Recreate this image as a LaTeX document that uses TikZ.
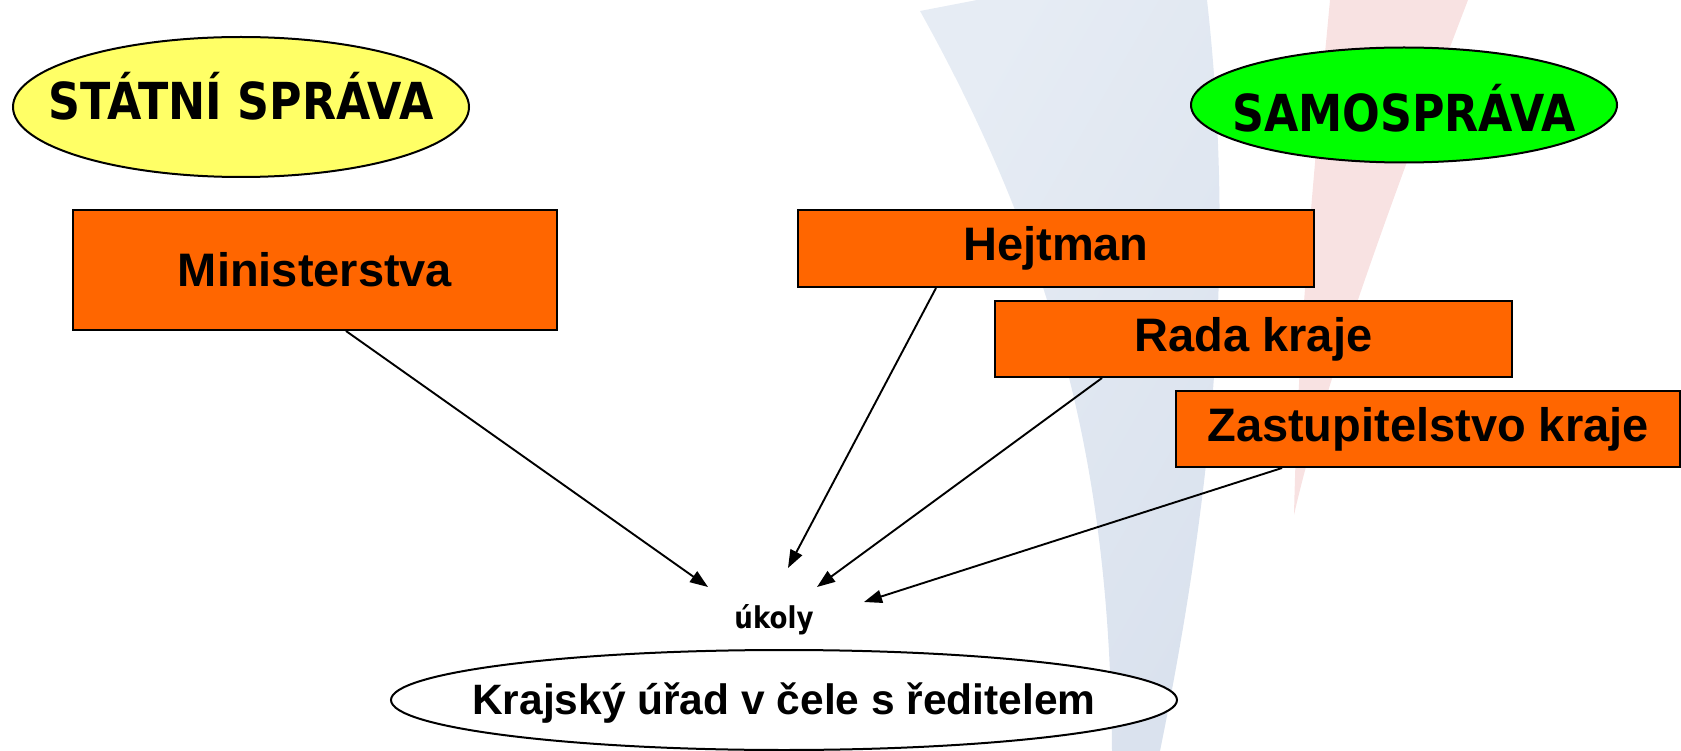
\documentclass[tikz,border=0pt]{standalone}
\usepackage{fontspec}
\setmainfont{Liberation Sans}
\newfontfamily\tah[FakeStretch=0.87]{DejaVu Sans}
\usetikzlibrary{shapes.geometric,arrows.meta}
\definecolor{boxorange}{HTML}{FF6600}
\definecolor{yel}{HTML}{FFFF66}
\definecolor{grn}{HTML}{00FF00}
\definecolor{bgblueA}{HTML}{E6ECF4}
\definecolor{bgblueB}{HTML}{DAE2EE}
\definecolor{bgpink}{HTML}{F8E2E2}
\begin{document}
\begin{tikzpicture}[x=1pt,y=-1pt,
  oval/.style={ellipse,draw=black,line width=2pt,inner sep=0pt},
  titletext/.style={font=\tah\bfseries\fontsize{51}{60}\selectfont},
  orgbox/.style={rectangle,draw=black,line width=2pt,fill=boxorange,inner sep=0pt,
     font=\bfseries\fontsize{47}{56}\selectfont},
  link/.style={line width=1.9pt,-{Triangle[length=18pt,width=13pt]}}]
\useasboundingbox (0,0) rectangle (1681,751);
% background swooshes
\shade[left color=bgblueA,right color=bgblueB,shading angle=60]
  (920,11) -- (977,0) -- (1207,0) .. controls (1235,250) and (1215,480) .. (1160,751)
  -- (1112,751) .. controls (1110,500) and (1070,280) .. (920,11) -- cycle;
\fill[bgpink] (1330,0) -- (1468,0) .. controls (1395,190) and (1322,390) .. (1294,515)
  .. controls (1298,330) and (1316,150) .. (1330,0) -- cycle;
% nodes
\node[oval,fill=yel,minimum width=456pt,minimum height=140pt] (ss) at (241,107) {};
\node[titletext] (sst) at (241,96) {STÁTNÍ SPRÁVA};
\node[oval,fill=grn,minimum width=426pt,minimum height=115pt] (sa) at (1404,105) {};
\node[titletext] (sat) at (1404,108) {SAMOSPRÁVA};
\node[orgbox,minimum width=484pt,minimum height=120pt] (min) at (315,270) {Ministerstva};
\node[orgbox,minimum width=516pt,minimum height=77pt] (hej) at (1056,248.5) {Hejtman};
\node[orgbox,minimum width=517pt,minimum height=76pt] (rada) at (1253.5,339) {Rada kraje};
\node[orgbox,minimum width=504pt,minimum height=76pt] (zas) at (1428,429) {Zastupitelstvo kraje};
\node[font=\tah\bfseries\fontsize{30}{36}\selectfont] (uk) at (774,620) {úkoly};
\node[oval,fill=white,minimum width=786pt,minimum height=100pt] (ku) at (784,700) {};
\node[font=\bfseries\fontsize{42.5}{50}\selectfont] (kut) at (784,703) {Krajský úřad v čele s ředitelem};
% arrow ends
\coordinate (e1) at (708,587);
\coordinate (e2) at (788,568);
\coordinate (e3) at (817,587);
\coordinate (e4) at (864,602);
\draw[link] ([xshift=31pt]min.south) -- (e1);
\draw[link] ([xshift=-120pt]hej.south) -- (e2);
\draw[link] ([xshift=-151.5pt]rada.south) -- (e3);
\draw[link] ([xshift=-146pt]zas.south) -- (e4);
\end{tikzpicture}
\end{document}
